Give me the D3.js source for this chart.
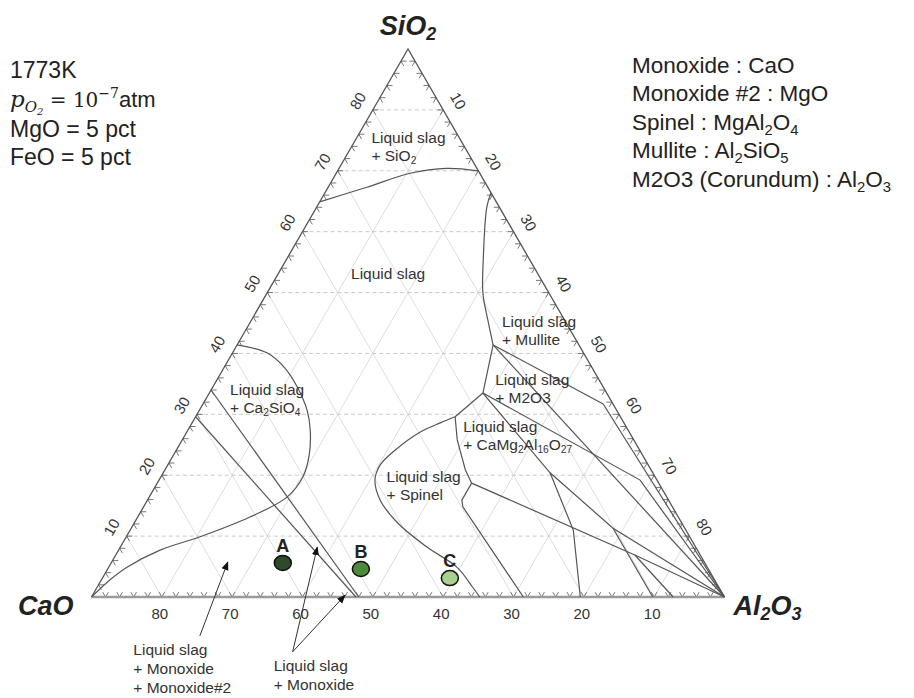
<!DOCTYPE html>
<html>
<head>
<meta charset="utf-8">
<script src="https://cdn.jsdelivr.net/npm/d3@7"></script>
<style>
  body { margin: 0; background: #fff; }
  text { font-family: "Liberation Sans", Arial, sans-serif; }
</style>
</head>
<body>
<svg></svg>
<script>
const width = 914,
      height = 698,
      total = 90,   // CaO + Al2O3 + SiO2 = 90 (MgO and FeO fixed at 5 pct each)
      svg = d3.select("svg").attr("width", width).attr("height", height);

// every point is [Al2O3, SiO2] in pct, CaO is the rest up to 90
const silicaLiquidus   = [[0, 64.9], [5.5, 67.3], [10.5, 69.6], [15.3, 70.4], [20, 70]];
const mulliteLiquidus  = [[23.6, 66.4], [24.2, 64.0], [28.0, 55.4], [30.7, 49.9], [33.6, 45.5], [36.4, 41.4]];
const corundumLiquidus = [[36.4, 41.4], [38.9, 33.5]];
const ca2m2Liquidus    = [[38.9, 33.5], [36.9, 29.6]];
const spinelLiquidus   = [[36.9, 29.6], [35.3, 28.6], [33.2, 27.1], [31.1, 24.1], [30.2, 21.7], [30.7, 19.2],
                          [33.1, 15.9], [37.4, 12.2], [43.6, 8.2], [49.5, 4.9], [53.4, 1.6], [55.2, 0]];
const c2sLiquidus      = [[0, 41.4], [4.9, 40.1], [8.7, 37.6], [12.0, 34.5], [15.3, 30.7], [17.4, 27.4],
                          [19.3, 23.3], [20.2, 19.7], [19.6, 16.4], [15.9, 13.1], [10.5, 9.9], [5.9, 7.7],
                          [2.6, 4.9], [1.2, 2.8], [0, 0]];
const monoxideLines    = [[[0, 34.0], [38.0, 0]], [[0, 29.6], [37.6, 0]]];
const aluminaSideLines = [
  [[36.4, 41.4], [56.9, 31.7]],
  [[56.9, 31.7], [90, 0]],
  [[36.4, 41.4], [90, 0]],
  [[38.9, 33.5], [68.4, 19.2], [90, 0]],
  [[38.9, 33.5], [55.0, 20.4], [68.5, 11.3], [90, 0]],
  [[55.0, 20.4], [63.0, 11.0], [69.5, 0]],
  [[36.9, 29.6], [39.1, 25.8], [42.7, 20.9], [44.7, 18.7]],
  [[44.7, 18.7], [44.7, 15.9], [45.4, 14.8], [61.4, 0]],
  [[44.7, 18.7], [73.8, 6.9], [90, 0]],
  [[68.5, 11.3], [79.8, 0]],
  [[73.8, 6.9], [82.7, 0]]
];

const gridValues  = [10, 20, 30, 40, 50, 60, 70, 80];
const minorValues = d3.range(2, 90, 2);

const samples = [
  {name: "A", al2o3: 24.4, sio2: 5.6, fill: "#2f4a2a"},
  {name: "B", al2o3: 36.0, sio2: 4.6, fill: "#4b8a3b"},
  {name: "C", al2o3: 49.4, sio2: 3.1, fill: "#a9d08e"}
];

const fieldLabels = [
  {at: [2.5, 74.6],  lines: [["Liquid slag"], ["+ SiO", ["2"]]]},
  {at: [10.8, 52.2], lines: [["Liquid slag"]]},
  {at: [36.2, 44.3], lines: [["Liquid slag"], ["+ Mullite"]]},
  {at: [40.0, 34.8], lines: [["Liquid slag"], ["+ M2O3"]]},
  {at: [39.3, 27.1], lines: [["Liquid slag"], ["+ CaMg", ["2"], "Al", ["16"], "O", ["27"]]]},
  {at: [32.5, 18.9], lines: [["Liquid slag"], ["+ Spinel"]]},
  {at: [3.1, 33.2],  lines: [["Liquid slag"], ["+ Ca", ["2"], "SiO", ["4"]]]}
];

const arrows = [
  {from: [18.6, -6.4], to: [16.5, 5.75]},
  {from: [33.1, -9.0], to: [28.0, 8.2]},
  {from: [33.1, -9.0], to: [35.9, 0.3]}
];
const arrowNotes = [
  {at: [10.7, -9.5], lines: ["Liquid slag", "+ Monoxide", "+ Monoxide#2"]},
  {at: [32.0, -12.2], lines: ["Liquid slag", "+ Monoxide"]}
];

const conditions = ["1773K", "pO2", "MgO = 5 pct", "FeO = 5 pct"];
const phaseNames = [
  ["Monoxide : CaO"],
  ["Monoxide #2 : MgO"],
  ["Spinel : MgAl", ["2"], "O", ["4"]],
  ["Mullite : Al", ["2"], "SiO", ["5"]],
  ["M2O3 (Corundum) : Al", ["2"], "O", ["3"]]
];

// ternary projection through two linear scales
const xScale = d3.scaleLinear().domain([0, total]).range([91.5, 724.5]);
const yScale = d3.scaleLinear().domain([0, total]).range([597, 49]);
const px = ([a, s]) => [xScale(a + s / 2), yScale(s)];
const line = d3.line().x(d => px(d)[0]).y(d => px(d)[1]);
const curve = d3.line().x(d => px(d)[0]).y(d => px(d)[1]).curve(d3.curveCatmullRom.alpha(0.5));

// write text with subscripts, a part in [] is a subscript
function richText(sel, parts, size) {
  let shifted = false;
  sel.attr("font-size", size);
  parts.forEach(p => {
    const sub = Array.isArray(p);
    const t = sel.append("tspan").attr("font-size", sub ? size * 0.66 : size).text(sub ? p[0] : p);
    if (sub && !shifted) { t.attr("dy", size * 0.2); shifted = true; }
    else if (!sub && shifted) { t.attr("dy", -size * 0.2); shifted = false; }
  });
}

// grid
const grid = svg.append("g").attr("class", "grid").attr("fill", "none");
gridValues.forEach(v => {
  grid.append("path").attr("d", line([[0, v], [total - v, v]]))
      .attr("stroke", "#bdbdbd").attr("stroke-width", 0.8).attr("stroke-dasharray", "4,3");
  grid.append("path").attr("d", line([[v, 0], [v, total - v]]))
      .attr("stroke", "#cfcfcf").attr("stroke-width", 0.7);
  grid.append("path").attr("d", line([[total - v, 0], [0, total - v]]))
      .attr("stroke", "#cfcfcf").attr("stroke-width", 0.7);
});

// ticks, small chevrons on each side
const ticks = svg.append("g").attr("fill", "none").attr("stroke", "#555").attr("stroke-width", 0.8);
const d = 0.8;
minorValues.forEach(v => {
  ticks.append("path").attr("d", line([[v - d, d], [v, 0], [v, d]]));
  ticks.append("path").attr("d", line([[d, v - d], [0, v], [d, v]]));
  ticks.append("path").attr("d", line([[v - d, total - v], [v, total - v], [v, total - v - d]]));
});

// triangle frame
const frame = svg.append("g").attr("fill", "none");
frame.append("path").attr("d", line([[0, 0], [total, 0]])).attr("stroke", "#9a9a9a").attr("stroke-width", 2.5);
frame.append("path").attr("d", line([[0, 0], [0, total], [total, 0]])).attr("stroke", "#555").attr("stroke-width", 1.3);

// phase boundaries
const bounds = svg.append("g").attr("fill", "none").attr("stroke", "#555").attr("stroke-width", 1.2);
[silicaLiquidus, mulliteLiquidus, spinelLiquidus, c2sLiquidus].forEach(c => bounds.append("path").attr("d", curve(c)));
[corundumLiquidus, ca2m2Liquidus, ...monoxideLines, ...aluminaSideLines].forEach(c => bounds.append("path").attr("d", line(c)));

// tick labels
const labels = svg.append("g").attr("fill", "#333").attr("text-anchor", "middle");
gridValues.forEach(v => {
  const [bx, by] = px([total - v, 0]);
  labels.append("text").attr("font-size", 15).attr("x", bx - 2).attr("y", by + 22).text(v);
  const [lx, ly] = px([0, v]);
  labels.append("text").attr("font-size", 15).attr("transform", `translate(${lx - 15},${ly - 9}) rotate(-60)`)
      .attr("dy", "0.35em").text(v);
  const [rx, ry] = px([v, total - v]);
  labels.append("text").attr("font-size", 15).attr("transform", `translate(${rx + 15},${ry - 9}) rotate(60)`)
      .attr("dy", "0.35em").text(v);
});

// corner names
const corner = svg.append("g").attr("font-weight", "bold").attr("font-style", "italic").attr("fill", "#222");
const [tx, ty] = px([0, total]);
richText(corner.append("text").attr("x", tx).attr("y", ty - 14).attr("text-anchor", "middle"), ["SiO", ["2"]], 27);
const [cx0, cy0] = px([0, 0]);
richText(corner.append("text").attr("x", cx0 - 18).attr("y", cy0 + 18).attr("text-anchor", "end"), ["CaO"], 27);
const [ax0, ay0] = px([total, 0]);
richText(corner.append("text").attr("x", ax0 + 9).attr("y", ay0 + 18), ["Al", ["2"], "O", ["3"]], 27);

// field labels
const fields = svg.append("g").attr("fill", "#333");
fieldLabels.forEach(f => {
  const [x, y] = px(f.at);
  f.lines.forEach((parts, i) => richText(fields.append("text").attr("x", x).attr("y", y + i * 18), parts, 15.5));
});

// arrows with notes
svg.append("defs").append("marker")
    .attr("id", "head").attr("viewBox", "0 0 10 10").attr("refX", 9).attr("refY", 5)
    .attr("markerWidth", 9).attr("markerHeight", 9).attr("orient", "auto")
  .append("path").attr("d", "M0,1 L10,5 L0,9 Z").attr("fill", "#111");
const notes = svg.append("g");
arrows.forEach(a => notes.append("path").attr("d", line([a.from, a.to]))
    .attr("stroke", "#333").attr("stroke-width", 1).attr("marker-end", "url(#head)"));
arrowNotes.forEach(n => {
  const [x, y] = px(n.at);
  n.lines.forEach((t, i) => notes.append("text").attr("x", x).attr("y", y + i * 19)
      .attr("font-size", 15.5).attr("fill", "#333").text(t));
});

// sample points
const pts = svg.append("g").selectAll(".sample").data(samples).join("g")
    .attr("class", "sample")
    .attr("transform", d => `translate(${px([d.al2o3, d.sio2])})`);
pts.append("ellipse").attr("rx", 8.5).attr("ry", 7.5).attr("fill", d => d.fill)
    .attr("stroke", "#111").attr("stroke-width", 1.5);
pts.append("text").attr("y", -11).attr("text-anchor", "middle").attr("font-size", 18)
    .attr("font-weight", "bold").attr("font-family", "'Open Sans', sans-serif").attr("fill", "#222")
    .text(d => d.name);

// conditions, top left
const cond = svg.append("g").attr("fill", "#222");
const condY = [78, 107, 137, 165];
const serif = "'DejaVu Serif', serif";
conditions.forEach((c, i) => {
  const t = cond.append("text").attr("x", 10).attr("y", condY[i]).attr("font-size", 23);
  if (c === "pO2") {
    t.append("tspan").attr("font-family", serif).attr("font-style", "italic").attr("font-size", 23).text("p");
    t.append("tspan").attr("font-family", serif).attr("font-style", "italic")
        .attr("font-size", 15).attr("dy", 5).text("O");
    t.append("tspan").attr("font-family", serif).attr("font-style", "italic")
        .attr("font-size", 10).attr("dy", 3).text("2");
    t.append("tspan").attr("font-family", serif).attr("font-size", 20).attr("dy", -8).text(" = 10");
    t.append("tspan").attr("font-family", serif).attr("font-size", 14).attr("dy", -9).text("\u22127");
    t.append("tspan").attr("font-size", 22).attr("dy", 9).text("atm");
  } else {
    t.text(c);
  }
});

// phase names, top right
const names = svg.append("g").attr("fill", "#222");
const nameY = [73, 101, 130, 158, 187];
phaseNames.forEach((p, i) => richText(names.append("text").attr("x", 632).attr("y", nameY[i]), p, 22.5));
</script>
</body>
</html>
